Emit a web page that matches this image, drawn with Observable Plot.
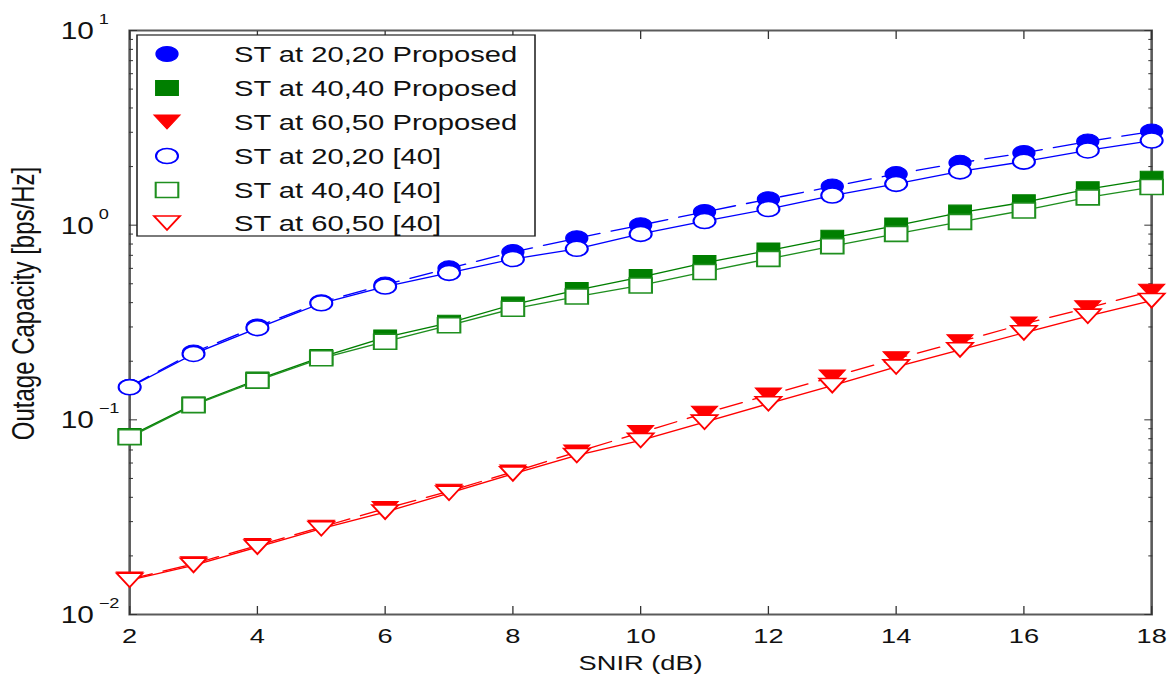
<!DOCTYPE html>
<html><head><meta charset="utf-8">
<script src="https://cdn.jsdelivr.net/npm/d3@7"></script>
<script src="https://cdn.jsdelivr.net/npm/@observablehq/plot@0.6"></script>
<style>html,body{margin:0;padding:0;background:#fff;} #chart svg{display:block;}</style>
</head><body><div id="chart"></div>
<script>
// ---- data ----
const snir = [2, 3, 4, 5, 6, 7, 8, 9, 10, 11, 12, 13, 14, 15, 16, 17, 18];
const blueProposed = [0.148, 0.222, 0.302, 0.402, 0.495, 0.600, 0.727, 0.857, 1.00, 1.17, 1.36, 1.58, 1.83, 2.09, 2.35, 2.69, 3.03];
const blueRef40    = [0.147, 0.218, 0.296, 0.397, 0.484, 0.569, 0.670, 0.756, 0.902, 1.05, 1.21, 1.42, 1.63, 1.89, 2.12, 2.42, 2.72];
const greenProposed = [0.0825, 0.120, 0.161, 0.210, 0.265, 0.315, 0.391, 0.464, 0.541, 0.640, 0.741, 0.861, 0.996, 1.16, 1.31, 1.53, 1.73];
const greenRef40    = [0.0815, 0.119, 0.159, 0.207, 0.252, 0.306, 0.372, 0.430, 0.490, 0.575, 0.671, 0.780, 0.902, 1.04, 1.19, 1.39, 1.57];
const redProposed = [0.0152, 0.0182, 0.0226, 0.0281, 0.0350, 0.0430, 0.0540, 0.0683, 0.0860, 0.108, 0.134, 0.166, 0.206, 0.252, 0.311, 0.376, 0.458];
const redRef40    = [0.0150, 0.0179, 0.0222, 0.0276, 0.0336, 0.0420, 0.0528, 0.0656, 0.0784, 0.0973, 0.121, 0.150, 0.187, 0.229, 0.280, 0.341, 0.410];
const seriesLabels = ["ST at 20,20 Proposed", "ST at 40,40 Proposed", "ST at 60,50 Proposed",
                      "ST at 20,20 [40]", "ST at 40,40 [40]", "ST at 60,50 [40]"];
const xTicks = [2, 4, 6, 8, 10, 12, 14, 16, 18];
const yMajor = [0.01, 0.1, 1, 10];
const yExpLabels = ["\u22122", "\u22121", "0", "1"];
const yMinor = [0.01, 0.1, 1].flatMap(d => [2,3,4,5,6,7,8,9].map(k => +(d * k).toPrecision(3)));
const xLabel = "SNIR (dB)";
const yLabel = "Outage Capacity [bps/Hz]";

// ---- layout (original figure is horizontally stretched) ----
const W = 1168, H = 677, W0 = 900, s = W / W0;

// marker shapes (custom Plot symbols)
function ellipseSym(rx, ry) {
  return { draw(c) { const k = 0.5523;
    c.moveTo(rx, 0);
    c.bezierCurveTo(rx, ry * k, rx * k, ry, 0, ry);
    c.bezierCurveTo(-rx * k, ry, -rx, ry * k, -rx, 0);
    c.bezierCurveTo(-rx, -ry * k, -rx * k, -ry, 0, -ry);
    c.bezierCurveTo(rx * k, -ry, rx, -ry * k, rx, 0);
    c.closePath(); } };
}
function rectSym(hw, hh) {
  return { draw(c) { c.moveTo(-hw, -hh); c.lineTo(hw, -hh); c.lineTo(hw, hh); c.lineTo(-hw, hh); c.closePath(); } };
}
function triDownSym(hw, hh) {
  return { draw(c) { c.moveTo(-hw, -hh); c.lineTo(hw, -hh); c.lineTo(0, hh); c.closePath(); } };
}
const circ = ellipseSym(11 / s, 7.5);
const sq = rectSym(11.3 / s, 7.5);
const tri = triDownSym(13 / s, 7);

const rows = ys => snir.map((x, i) => ({x, y: ys[i]}));
const series = [
  {label: seriesLabels[0], data: rows(blueProposed), color: "#0000ff", sym: circ, filled: true, dash: "18,9"},
  {label: seriesLabels[1], data: rows(greenProposed), color: "#007f00", sym: sq, filled: true, dash: null},
  {label: seriesLabels[2], data: rows(redProposed), color: "#ff0000", sym: tri, filled: true, dash: "18,9"},
  {label: seriesLabels[3], data: rows(blueRef40), color: "#0000ff", sym: circ, filled: false, dash: null},
  {label: seriesLabels[4], data: rows(greenRef40), color: "#1f8f1f", sym: sq, filled: false, dash: null},
  {label: seriesLabels[5], data: rows(redRef40), color: "#ff0000", sym: tri, filled: false, dash: null}
];

const seriesMarks = series.flatMap(d => [
  Plot.line(d.data, {x: "x", y: "y", stroke: d.color, strokeWidth: 1.3, strokeDasharray: d.dash}),
  Plot.dot(d.data, {x: "x", y: "y", symbol: d.sym, r: 5,
    fill: d.filled ? d.color : "white", stroke: d.color, strokeWidth: d.filled ? 1 : 1.6})
]);

const chart = Plot.plot({
  width: W0, height: H,
  marginLeft: 129 / s, marginRight: 17 / s, marginTop: 30, marginBottom: 63,
  style: {fontFamily: "'Liberation Sans', Arial, sans-serif", background: "white", color: "#111"},
  x: {domain: [2, 18]},
  y: {type: "log", domain: [0.01, 10]},
  marks: [
    Plot.frame({stroke: "#5a5a5a", strokeWidth: 2}),
    Plot.axisX({anchor: "bottom", ticks: xTicks, tickSize: -8, tickFormat: () => "", label: null, stroke: "#333"}),
    Plot.axisX({anchor: "top", ticks: xTicks, tickSize: -8, tickFormat: () => "", label: null, stroke: "#333"}),
    Plot.axisY({anchor: "left", ticks: yMajor, tickSize: -8 / s, tickFormat: () => "", label: null, stroke: "#333"}),
    Plot.axisY({anchor: "right", ticks: yMajor, tickSize: -8 / s, tickFormat: () => "", label: null, stroke: "#333"}),
    Plot.axisY({anchor: "left", ticks: yMinor, tickSize: -4 / s, tickFormat: () => "", label: null, stroke: "#333"}),
    Plot.axisY({anchor: "right", ticks: yMinor, tickSize: -4 / s, tickFormat: () => "", label: null, stroke: "#333"}),
    Plot.axisX({anchor: "bottom", ticks: xTicks, tickSize: 0, tickPadding: 14, fontSize: 21, label: null, tickFormat: d => String(d)}),
    Plot.text(yMajor, {y: d => d, frameAnchor: "left", text: () => "10", dx: -69 / s, dy: 1, textAnchor: "start", lineAnchor: "middle", fontSize: 23, fill: "#111"}),
    Plot.text(yMajor, {y: d => d, frameAnchor: "left", text: yExpLabels, dx: -31 / s, dy: -11, textAnchor: "start", lineAnchor: "middle", fontSize: 14, fill: "#111"}),
    Plot.text([xLabel], {frameAnchor: "bottom", text: d => d, dy: 49, textAnchor: "middle", lineAnchor: "middle", fontSize: 21, fill: "#111"}),
    Plot.text([yLabel], {frameAnchor: "left", text: d => d, rotate: -90, dx: (33 - 129) / s, dy: -19, textAnchor: "middle", lineAnchor: "bottom", fontSize: 24, fill: "#111"}),
    ...seriesMarks
  ]
});

// legend (inside the axes, top-left)
const g = d3.select(chart).append("g").attr("text-anchor", "start");
g.append("rect").attr("x", 137 / s).attr("y", 35).attr("width", (535 - 137) / s).attr("height", 201)
  .attr("fill", "white").attr("stroke", "#222").attr("stroke-width", 1.2);
const legendY = [54, 88, 122, 156, 190, 223];
series.forEach((d, i) => {
  const p = d3.path(); d.sym.draw(p, 0);
  g.append("path").attr("d", p.toString()).attr("transform", `translate(${167 / s},${legendY[i]})`)
    .attr("fill", d.filled ? d.color : "white").attr("stroke", d.color).attr("stroke-width", d.filled ? 1 : 1.6);
  g.append("text").attr("x", 234 / s).attr("y", legendY[i]).attr("dy", "0.36em").attr("text-anchor", "start")
    .attr("font-size", 22.5).attr("fill", "#111").text(d.label);
});

chart.setAttribute("width", W);
chart.setAttribute("height", H);
chart.setAttribute("viewBox", `0 0 ${W0} ${H}`);
chart.setAttribute("preserveAspectRatio", "none");
chart.style.width = W + "px";
chart.style.height = H + "px";
chart.style.maxWidth = "none";
document.getElementById("chart").appendChild(chart);
</script></body></html>
